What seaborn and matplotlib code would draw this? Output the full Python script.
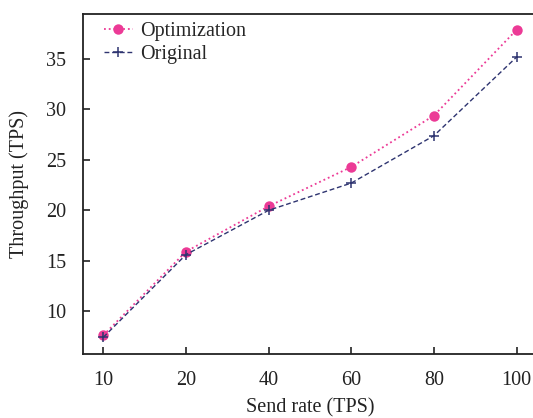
import matplotlib
matplotlib.use("Agg")
import matplotlib.pyplot as plt
import pandas as pd
import seaborn as sns

# Data
send_rates = ["10", "20", "40", "60", "80", "100"]
optimization = [7.6, 15.9, 20.4, 24.3, 29.4, 37.9]
original = [7.4, 15.6, 20.0, 22.7, 27.4, 35.2]

sns.set_style("ticks")
plt.rcParams["font.family"] = ["Liberation Serif", "DejaVu Serif"]
plt.rcParams["xtick.direction"] = "in"
plt.rcParams["ytick.direction"] = "in"

pink = "#ec3a96"
navy = "#2e3470"
fs = 14.5

pos = list(range(len(send_rates)))
df = pd.DataFrame({"pos": pos, "Optimization": optimization, "Original": original})

fig = plt.figure(figsize=(5.33, 4.18), dpi=100)
ax = fig.add_axes([0.155, 0.152, 0.853, 0.814])

sns.lineplot(data=df, x="pos", y="Optimization", ax=ax, color=pink,
             linestyle=":", linewidth=1.3, marker="o", markersize=7.5,
             markeredgewidth=0, markeredgecolor=pink, label="Optimization")
sns.lineplot(data=df, x="pos", y="Original", ax=ax, color=navy,
             linestyle=(0, (3.5, 2)), linewidth=1.0, marker="+", markersize=7.5,
             markeredgewidth=1.1, markeredgecolor=navy, label="Original")

ax.set_xlim(-0.25, 5.25)
ax.set_ylim(5.7, 39.45)
ax.set_xticks(pos)
ax.set_xticklabels(send_rates)
ax.set_yticks([10, 15, 20, 25, 30, 35])
ax.tick_params(axis="both", labelsize=fs, length=5, width=1.2, colors="#222222",
               top=False, right=False)
ax.tick_params(axis="x", pad=12)
ax.tick_params(axis="y", pad=12)
for s in ax.spines.values():
    s.set_linewidth(1.3)
    s.set_color("#222222")

ax.set_xlabel("Send rate (TPS)", fontsize=fs, color="#222222", labelpad=6)
ax.set_ylabel("Throughput (TPS)", fontsize=fs, color="#222222", labelpad=12)

leg = ax.legend(loc="upper left", frameon=False, fontsize=fs, handlelength=1.4,
                handletextpad=0.4, labelspacing=0.2, borderaxespad=0.0,
                bbox_to_anchor=(0.03, 1.0))

fig.savefig("out.png", dpi=100)
